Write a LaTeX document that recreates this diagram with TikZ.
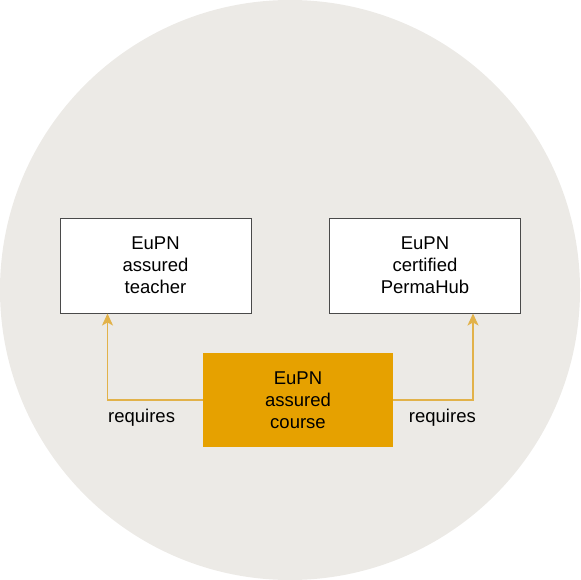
\documentclass[tikz,border=0pt]{standalone}
\usepackage{fontspec}
\setmainfont{Liberation Sans}
\usetikzlibrary{calc}
\usetikzlibrary{arrows.meta,positioning}
\definecolor{disc}{HTML}{ECEAE6}
\definecolor{gold}{HTML}{E6A100}
\definecolor{goldline}{HTML}{E2B24A}
\definecolor{frame}{HTML}{4A4A4A}
\tikzset{>={Stealth[length=12pt,width=11pt,inset=3pt]}}
\tikzset{
  badge/.style={draw=frame,line width=1pt,fill=white,minimum width=191pt,minimum height=95pt,
    align=center,font=\fontsize{18.5}{22}\selectfont,inner sep=0pt},
  goldbox/.style={fill=gold,minimum width=190pt,minimum height=94pt,
    align=center,font=\fontsize{18.5}{22}\selectfont,inner sep=0pt},
  req/.style={draw=goldline,line width=1.2pt,->},
  reqlabel/.style={font=\fontsize{18.5}{22}\selectfont,inner sep=0pt}
}
\begin{document}
\begin{tikzpicture}[x=1pt,y=-1pt]
\useasboundingbox (0,0) rectangle (580,580);
\fill [disc] (290,290) circle (290);
% the three boxes
\node [badge] (teacher) at (155.5,265.5) {EuPN\\assured\\teacher};
\node [badge] (hub) at (425,265.5) {EuPN\\certified\\PermaHub};
\node [goldbox] (course) at (298,400) {EuPN\\assured\\course};
% connectors
\draw [req] (course.west) -| ([xshift=48pt]teacher.south west);
\draw [req] (course.east) -| ([xshift=-48pt]hub.south east);
\node [reqlabel,anchor=north west] (lreq) at (108,409) {requires};
\node [reqlabel,anchor=north east] (rreq) at (476,409) {requires};
\end{tikzpicture}
\end{document}
